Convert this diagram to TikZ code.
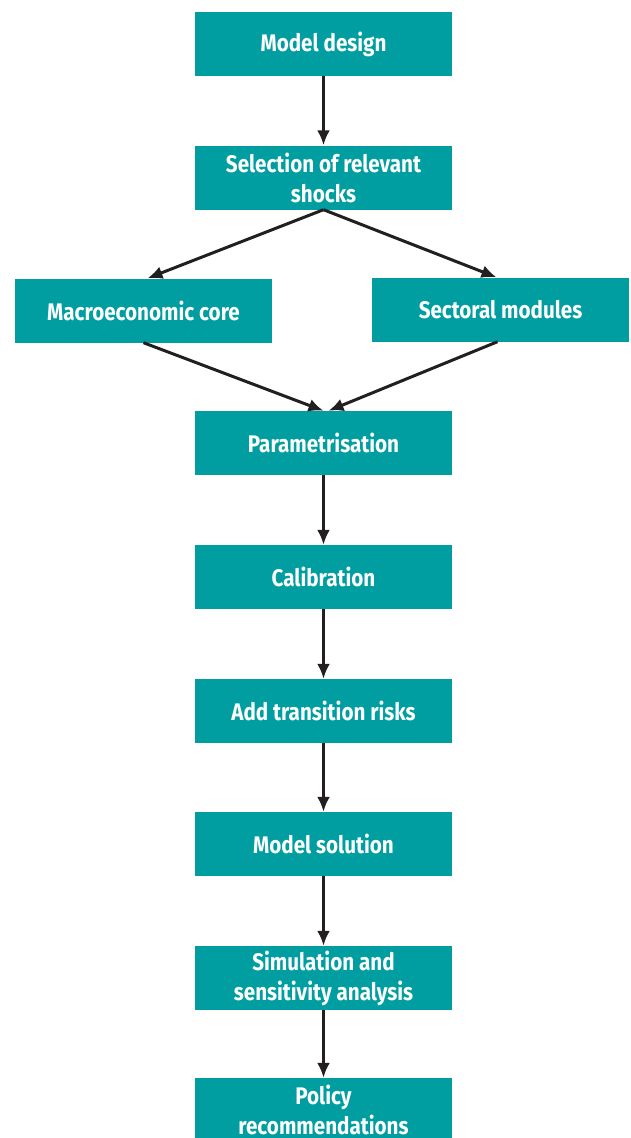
\documentclass[tikz,border=0pt]{standalone}
\usepackage{fontspec}
\setmainfont{Fira Sans}[FakeStretch=0.86]
\usepackage{xcolor}
\usepackage{tikz}
\usetikzlibrary{arrows.meta}

\definecolor{teal}{RGB}{0,158,160}
\definecolor{arrowgrey}{RGB}{35,31,32}

\tikzset{
    stepbox/.style={fill=teal, minimum width=257pt, minimum height=64pt, inner sep=0pt,
        text=white, align=center, font=\fontsize{24}{30}\selectfont\bfseries},
    flow/.style={draw=arrowgrey, line width=3pt, -{Latex[length=15pt,width=13pt]}}
}

\begin{document}
\begin{tikzpicture}[x=1pt, y=1pt]
        \useasboundingbox (0, 0) rectangle (630, -1138);

        \node[stepbox] (design) at (323.5, -44) {Model design};
        \node[stepbox] (shocks) at (323.5, -177.5) {Selection of relevant\\shocks};
        \node[stepbox] (macro) at (143.5, -310.5) {Macroeconomic core};
        \node[stepbox] (sector) at (500.5, -309.5) {Sectoral modules};
        \node[stepbox] (param) at (323.5, -443) {Parametrisation};
        \node[stepbox] (calib) at (323.5, -577) {Calibration};
        \node[stepbox] (risks) at (323.5, -711) {Add transition risks};
        \node[stepbox] (solution) at (323.5, -844) {Model solution};
        \node[stepbox] (simul) at (323.5, -978) {Simulation and\\sensitivity analysis};
        \node[stepbox] (policy) at (323.5, -1110) {Policy\\recommendations};

        \draw[flow] (design) -- (shocks);

        \draw[flow] (shocks.south) -- ([xshift=4pt]macro.north);
        \draw[flow] (shocks.south) -- ([xshift=-4pt]sector.north);
        \draw[flow] (macro.south) -- (param.north);
        \draw[flow] ([xshift=-3pt]sector.south) -- ([xshift=5pt]param.north);

        \draw[flow] (param) -- (calib);
        \draw[flow] (calib) -- (risks);
        \draw[flow] (risks) -- (solution);
        \draw[flow] (solution) -- (simul);
        \draw[flow] (simul) -- (policy);

    \end{tikzpicture}
\end{document}
